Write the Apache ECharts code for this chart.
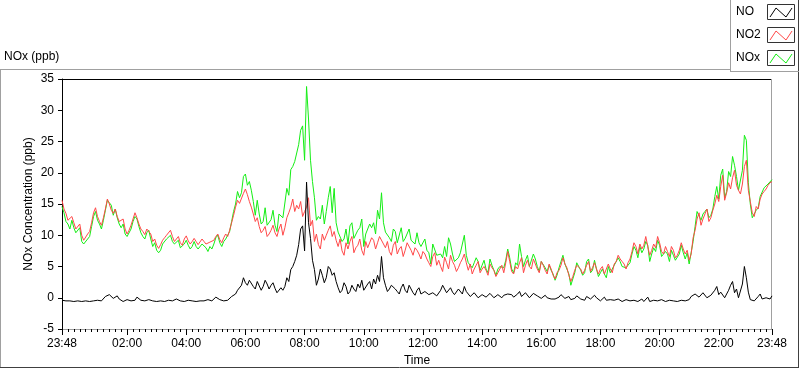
<!DOCTYPE html>
<html>
<head>
<meta charset="utf-8">
<script src="https://cdn.jsdelivr.net/npm/echarts@6/dist/echarts.min.js"></script>
<style>
  html, body { margin: 0; padding: 0; background: #fff; }
  #main { width: 800px; height: 369px; }
</style>
</head>
<body>
<div id="main"></div>
<script>
// samples every 8 minutes, first one at 23:48; the *Half arrays are the
// readings taken 4 minutes after each of those samples
var step = 8;

var no = [
  -0.4,-0.5,-0.5,-0.6,-0.5,-0.6,-0.5,-0.6,-0.5,-0.4,
  -0.5,0.2,0.5,-0.1,0.3,-0.4,-0.5,-0.4,-0.2,0.1,
  -0.4,-0.5,-0.3,-0.5,-0.6,-0.5,-0.6,-0.4,-0.5,-0.2,
  -0.5,-0.6,-0.4,-0.5,-0.6,-0.5,-0.5,-0.3,-0.5,0.1,
  -0.3,-0.5,-0.4,0.2,0.6,1.0,3.2,2.0,2.6,1.4,
  2.4,1.8,2.2,2.0,1.5,1.0,1.2,3.2,4.5,5.8,
  8.5,11.5,18.5,9.5,4.5,3.0,3.6,3.2,4.6,4.0,
  1.6,1.2,1.8,1.0,1.4,2.2,2.8,1.5,2.6,3.0,
  3.6,6.6,2.0,1.4,2.0,1.0,1.6,1.2,2.0,0.8,
  1.2,0.6,1.0,0.5,0.8,0.3,1.2,1.4,1.0,0.9,
  0.8,1.1,1.8,0.6,0.4,0.5,0.2,0.6,0.3,0.4,
  0.2,0.3,0.4,0.6,0.5,0.3,1.0,0.5,0.6,0.3,
  0.4,0.1,0.2,0.0,-0.2,-0.2,0.1,0.2,0.0,-0.3,
  -0.1,0.1,-0.3,0.2,-0.2,0.4,-0.3,-0.2,-0.4,-0.3,
  -0.4,-0.2,-0.6,-0.3,-0.5,-0.4,-0.6,-0.2,-0.5,-0.6,
  -0.4,-0.5,-0.3,-0.6,-0.4,-0.5,-0.6,-0.4,-0.5,-0.3,
  0.0,0.4,0.2,0.5,0.3,0.1,1.8,0.9,0.0,1.2,
  2.6,1.4,0.2,5.0,0.9,-0.5,-0.4,0.6,0.1,-0.1,
  0.3
];
var noHalf = [
  -0.5,-0.6,-0.4,-0.5,-0.4,-0.5,-0.6,-0.5,-0.6,-0.3,
  -0.2,0.0,0.8,0.1,-0.2,-0.6,-0.3,-0.5,-0.4,-0.2,
  -0.6,-0.4,-0.6,-0.4,-0.5,-0.4,-0.5,-0.6,-0.3,-0.4,
  -0.5,-0.5,-0.6,-0.4,-0.5,-0.6,-0.4,-0.6,-0.4,-0.1,
  -0.5,-0.6,-0.2,0.4,1.2,2.0,2.4,2.8,1.8,2.6,
  1.2,2.8,1.4,2.4,0.8,1.6,1.8,2.6,5.0,6.8,
  11.0,7.5,12.0,6.0,2.0,4.6,2.4,5.0,3.6,2.6,
  0.8,2.4,0.6,2.0,1.0,1.6,1.2,2.2,1.4,2.2,
  2.6,3.2,1.0,2.0,1.4,0.6,2.2,0.8,1.4,0.4,
  1.6,0.4,1.2,0.2,1.0,0.6,2.0,0.8,1.6,0.5,
  1.4,0.6,1.0,0.2,0.8,0.0,0.5,0.1,0.7,0.0,
  0.5,0.0,0.2,0.3,0.1,0.6,0.2,0.8,0.0,0.7,
  0.3,-0.1,0.4,-0.3,0.1,-0.4,0.5,-0.1,0.2,-0.4,
  0.3,-0.2,-0.4,0.3,-0.4,0.0,-0.5,0.1,-0.5,-0.2,
  -0.5,-0.4,-0.5,-0.6,-0.3,-0.5,-0.4,-0.6,0.1,-0.5,
  -0.6,-0.3,-0.5,-0.4,-0.6,-0.3,-0.5,-0.6,-0.4,0.2,
  0.6,0.1,0.8,0.0,0.4,1.2,0.5,1.0,0.3,2.0,
  0.8,0.0,2.2,3.2,-0.3,-0.5,0.2,-0.2,0.0,-0.2
];

var no2 = [
  15.6,13.5,12.2,12.0,11.3,10.0,9.5,10.6,13.6,13.0,
  11.6,14.2,15.0,13.5,13.0,12.0,11.0,10.8,12.6,12.8,
  11.0,10.1,11.3,9.0,8.4,8.5,9.6,10.3,9.8,9.4,
  8.8,9.4,9.1,9.0,9.0,8.7,9.0,8.3,8.6,9.8,
  9.3,9.6,9.8,12.0,14.5,15.1,16.7,16.5,14.5,12.2,
  11.4,10.8,9.8,10.8,10.4,11.0,10.0,12.8,14.5,13.8,
  14.2,13.0,14.5,11.5,9.0,8.5,10.2,10.0,11.5,10.6,
  8.2,7.5,8.8,9.0,7.2,8.4,7.6,9.0,8.2,9.2,
  8.8,9.6,8.0,7.4,8.4,7.0,8.2,7.6,8.6,6.8,
  7.6,6.2,7.0,5.6,6.6,5.2,5.0,6.5,4.6,5.8,
  4.2,5.6,7.0,4.4,3.8,5.2,4.0,5.0,3.6,4.8,
  3.4,4.6,4.0,7.4,4.2,5.0,5.6,4.0,6.0,4.6,
  5.4,4.0,5.2,3.8,4.6,3.0,4.4,6.4,4.8,2.6,
  4.4,5.4,3.8,5.2,4.2,5.6,3.8,5.0,4.0,4.6,
  5.4,6.8,5.8,4.6,6.2,8.8,7.0,7.8,9.8,6.8,
  8.6,9.8,7.4,8.2,6.6,7.6,6.8,8.8,7.0,6.0,
  9.6,12.6,11.6,13.4,12.2,14.0,16.4,17.8,15.6,18.4,
  19.2,18.0,16.6,21.0,17.2,13.6,14.6,15.8,17.0,18.0,
  18.6
];
var no2Half = [
  14.2,12.4,13.0,11.0,11.8,9.2,10.2,12.0,14.4,12.2,
  12.8,15.8,14.0,14.2,12.2,12.6,10.2,11.6,13.6,11.8,
  10.6,11.0,10.2,9.4,7.9,9.2,10.0,10.8,9.0,9.8,
  8.4,9.9,8.6,9.5,8.5,9.4,8.6,8.9,9.2,10.2,
  8.8,10.2,10.8,13.2,15.6,14.8,17.4,15.4,13.4,12.8,
  10.4,11.4,10.2,11.6,9.8,11.8,11.2,13.6,15.8,14.8,
  15.4,13.8,16.0,12.4,10.2,7.8,9.2,10.8,9.8,9.2,
  9.4,6.8,7.8,9.8,8.0,9.4,6.8,8.0,9.6,7.8,
  9.8,8.6,9.0,6.8,9.0,7.8,6.6,8.8,7.6,8.0,
  7.0,7.4,6.2,5.0,7.2,6.0,4.2,5.6,6.8,5.2,
  4.8,6.2,5.6,5.4,4.6,5.8,4.6,4.4,5.4,4.4,
  4.0,5.2,5.6,5.8,3.8,4.6,6.4,5.2,5.0,6.2,
  4.6,5.8,4.4,5.4,3.6,4.0,5.2,5.4,3.6,3.4,
  5.2,4.6,4.4,5.8,4.8,4.6,4.6,3.8,5.4,4.0,
  5.8,6.2,5.4,5.6,7.4,8.2,8.6,8.4,8.2,7.6,
  8.0,8.8,7.0,7.4,8.2,6.4,7.6,7.8,7.6,7.0,
  10.8,13.6,12.6,14.2,12.8,15.0,15.4,19.6,16.8,17.4,
  20.4,17.2,18.2,22.0,15.4,13.0,14.2,16.6,17.4,18.4
];

var nox = [
  14.6,12.2,11.0,11.2,10.4,9.0,8.6,9.8,13.0,12.4,
  11.0,14.0,15.2,13.2,12.8,11.2,10.2,10.0,12.2,12.6,
  10.4,9.4,10.8,8.2,7.6,7.6,8.8,9.6,9.0,8.8,
  8.0,8.6,8.4,8.2,8.2,8.0,8.4,7.4,7.8,9.6,
  8.8,9.0,9.4,12.2,15.0,16.0,19.4,18.0,17.2,13.2,
  13.4,12.2,11.6,12.5,11.6,13.4,12.8,17.5,20.5,21.8,
  24.5,27.5,33.8,22.0,16.0,13.0,14.8,13.8,17.8,17.5,
  10.5,9.0,11.0,11.5,9.5,10.8,12.6,10.2,11.8,12.0,
  14.0,16.8,10.5,9.6,11.0,8.8,11.2,9.5,11.0,9.0,
  10.4,8.2,9.4,7.2,8.6,6.8,7.0,8.2,9.6,7.0,
  5.8,7.2,10.0,5.6,4.8,6.4,4.4,6.0,4.0,5.2,
  3.6,5.0,4.8,7.8,4.6,5.6,8.6,5.0,6.8,5.2,
  6.2,4.2,5.6,4.2,4.4,2.8,4.8,6.8,5.4,2.0,
  4.0,5.6,3.6,5.8,4.0,6.0,3.4,4.6,3.2,4.0,
  5.2,6.4,5.0,4.8,5.6,8.2,6.4,7.2,9.0,5.8,
  8.0,9.2,6.6,7.4,5.8,6.8,6.0,8.4,6.2,5.4,
  9.0,13.8,12.4,13.8,12.8,14.2,17.8,19.6,16.0,20.2,
  22.6,19.4,17.0,26.0,18.4,12.8,14.0,16.2,17.6,18.2,
  18.9
];
var noxHalf = [
  13.6,11.8,12.4,10.4,11.2,8.6,9.4,11.4,13.8,11.8,
  12.4,15.6,14.8,14.2,11.8,11.8,9.8,11.0,13.0,11.4,
  9.8,10.4,9.4,8.8,7.2,8.6,9.4,10.0,8.6,9.2,
  7.8,9.2,7.8,9.0,7.8,8.6,8.0,8.2,8.6,10.0,
  8.2,9.4,10.6,13.8,17.0,16.8,19.8,18.6,15.4,15.6,
  11.8,14.4,11.8,14.0,10.6,13.6,13.0,16.4,21.0,22.0,
  26.8,22.0,28.6,18.6,12.4,12.6,11.8,16.0,13.6,12.0,
  10.2,9.4,8.6,12.0,9.2,11.2,8.2,10.4,11.2,10.2,
  12.6,12.0,10.2,9.0,10.6,8.6,9.0,9.8,9.2,8.6,
  8.8,8.0,7.6,5.4,8.4,6.8,6.4,6.6,8.6,5.8,
  6.4,7.0,6.8,5.8,5.6,5.8,5.2,4.6,6.2,4.4,
  4.6,5.2,6.0,6.4,4.0,5.2,6.6,6.0,5.0,7.0,
  5.0,5.8,4.8,5.2,3.8,3.6,5.8,5.4,3.8,3.0,
  5.6,4.4,4.0,6.2,4.4,4.6,4.0,3.8,5.0,3.8,
  5.4,5.8,4.8,5.0,7.0,7.6,8.2,7.8,8.4,7.0,
  7.4,8.4,6.4,7.0,7.6,6.0,7.0,7.2,7.2,7.2,
  11.4,13.8,13.4,14.2,13.2,16.2,15.8,20.6,17.0,19.4,
  21.2,17.2,20.4,25.2,15.0,12.6,14.4,16.4,17.4,18.2
];

// minutes after 23:48 where the labelled ticks sit
var tickMinutes = [0, 132, 252, 372, 492, 612, 732, 852, 972, 1092, 1212, 1332, 1440];
var tickLabels = ['23:48', '02:00', '04:00', '06:00', '08:00', '10:00', '12:00',
                  '14:00', '16:00', '18:00', '20:00', '22:00', '23:48'];
var minorStep = 12;

var minorCats = [];
for (var m = 0; m <= 1440; m += minorStep) minorCats.push(String(m));

function isMajor(idx) {
  return tickMinutes.indexOf(idx * minorStep) >= 0;
}

// put the on-step and half-step readings back in time order
function toPairs(main, half) {
  var out = [];
  for (var i = 0; i < main.length; i++) {
    out.push([i * step, main[i]]);
    if (i < half.length) out.push([i * step + step / 2, half[i]]);
  }
  return out;
}

var font = 'Liberation Sans';
var red = '#ff4848';
var green = '#14ee14';

var chart = echarts.init(document.getElementById('main'), null, { renderer: 'canvas' });

var option = {
  animation: false,
  backgroundColor: '#fff',
  textStyle: { fontFamily: font },
  grid: { left: 62, right: 28, top: 79, bottom: 40, containLabel: false, outerBoundsMode: 'none' },
  xAxis: [
    { type: 'value', min: 0, max: 1440, show: false },
    {
      type: 'category', data: minorCats, boundaryGap: false, position: 'bottom',
      axisLine: { show: false },
      axisTick: { show: true, interval: 0, length: 3, lineStyle: { color: '#000' } },
      axisLabel: { show: false },
      splitLine: { show: false }
    },
    {
      type: 'category', data: minorCats, boundaryGap: false, position: 'bottom',
      axisLine: { show: false },
      axisTick: { show: true, interval: function (i) { return isMajor(i); }, length: 6, lineStyle: { color: '#000' } },
      axisLabel: {
        interval: function (i) { return isMajor(i); },
        formatter: function (val) { return tickLabels[tickMinutes.indexOf(+val)]; },
        color: '#000', fontSize: 12, fontFamily: font, margin: 9
      },
      splitLine: { show: false },
      name: 'Time', nameLocation: 'middle', nameGap: 26, nameMoveOverlap: false,
      nameTextStyle: { color: '#000', fontSize: 12, fontFamily: font }
    }
  ],
  yAxis: {
    type: 'value', min: -5, max: 35, interval: 5,
    axisLine: { show: true, lineStyle: { color: '#000' } },
    axisTick: { show: true, length: 4, lineStyle: { color: '#000' } },
    axisLabel: { color: '#000', fontSize: 12, fontFamily: font, margin: 8 },
    splitLine: { show: false },
    name: 'NOx Concentration (ppb)', nameLocation: 'middle', nameGap: 27, nameRotate: 90,
    nameMoveOverlap: false,
    nameTextStyle: { color: '#000', fontSize: 12, fontFamily: font }
  },
  series: [
    { name: 'NOx', type: 'line', xAxisIndex: 0, data: toPairs(nox, noxHalf), showSymbol: false,
      lineStyle: { color: green, width: 1 }, itemStyle: { color: green } },
    { name: 'NO2', type: 'line', xAxisIndex: 0, data: toPairs(no2, no2Half), showSymbol: false,
      lineStyle: { color: red, width: 1 }, itemStyle: { color: red } },
    { name: 'NO', type: 'line', xAxisIndex: 0, data: toPairs(no, noHalf), showSymbol: false,
      lineStyle: { color: '#000', width: 1 }, itemStyle: { color: '#000' } }
  ],
  graphic: [
    // panel frame
    { type: 'line', shape: { x1: 0, y1: 69.5, x2: 730, y2: 69.5 }, style: { stroke: '#a0a0a0', lineWidth: 1 } },
    { type: 'line', shape: { x1: 0.5, y1: 69, x2: 0.5, y2: 368 }, style: { stroke: '#a0a0a0', lineWidth: 1 } },
    { type: 'line', shape: { x1: 0, y1: 367.5, x2: 799, y2: 367.5 }, style: { stroke: '#404040', lineWidth: 1 } },
    { type: 'line', shape: { x1: 798.5, y1: 0, x2: 798.5, y2: 368 }, style: { stroke: '#404040', lineWidth: 1 } },
    // plot frame
    { type: 'line', shape: { x1: 62, y1: 79.5, x2: 772, y2: 79.5 }, style: { stroke: '#000', lineWidth: 1 } },
    { type: 'line', shape: { x1: 771.5, y1: 79, x2: 771.5, y2: 330 }, style: { stroke: '#a0a0a0', lineWidth: 1 } },
    { type: 'line', shape: { x1: 62, y1: 329.5, x2: 772, y2: 329.5 }, style: { stroke: '#a0a0a0', lineWidth: 1 } },
    // title
    { type: 'text', left: 4, top: 51, style: { text: 'NOx (ppb)', fill: '#000', font: '12px "Liberation Sans"' } },
    // legend box
    { type: 'line', shape: { x1: 730.5, y1: 0, x2: 730.5, y2: 72 }, style: { stroke: '#a0a0a0', lineWidth: 1 } },
    { type: 'line', shape: { x1: 730, y1: 71.5, x2: 799, y2: 71.5 }, style: { stroke: '#a0a0a0', lineWidth: 1 } },
    { type: 'text', x: 736, y: 12, style: { text: 'NO', fill: '#000', font: '12px "Liberation Sans"', verticalAlign: 'middle' } },
    { type: 'text', x: 736, y: 35, style: { text: 'NO2', fill: '#000', font: '12px "Liberation Sans"', verticalAlign: 'middle' } },
    { type: 'text', x: 736, y: 58, style: { text: 'NOx', fill: '#000', font: '12px "Liberation Sans"', verticalAlign: 'middle' } },
    { type: 'rect', shape: { x: 767.5, y: 4.5, width: 27, height: 15 }, style: { fill: '#fff', stroke: '#333', lineWidth: 1 } },
    { type: 'rect', shape: { x: 767.5, y: 27.5, width: 27, height: 15 }, style: { fill: '#fff', stroke: '#333', lineWidth: 1 } },
    { type: 'rect', shape: { x: 767.5, y: 50.5, width: 27, height: 15 }, style: { fill: '#fff', stroke: '#333', lineWidth: 1 } },
    { type: 'polyline', shape: { points: [[770, 17], [776, 8], [786, 17], [792, 8]] }, style: { stroke: '#000', lineWidth: 1, fill: null } },
    { type: 'polyline', shape: { points: [[770, 40], [776, 31], [786, 40], [792, 31]] }, style: { stroke: red, lineWidth: 1, fill: null } },
    { type: 'polyline', shape: { points: [[770, 63], [776, 54], [786, 63], [792, 54]] }, style: { stroke: green, lineWidth: 1, fill: null } }
  ]
};

chart.setOption(option);
</script>
</body>
</html>
